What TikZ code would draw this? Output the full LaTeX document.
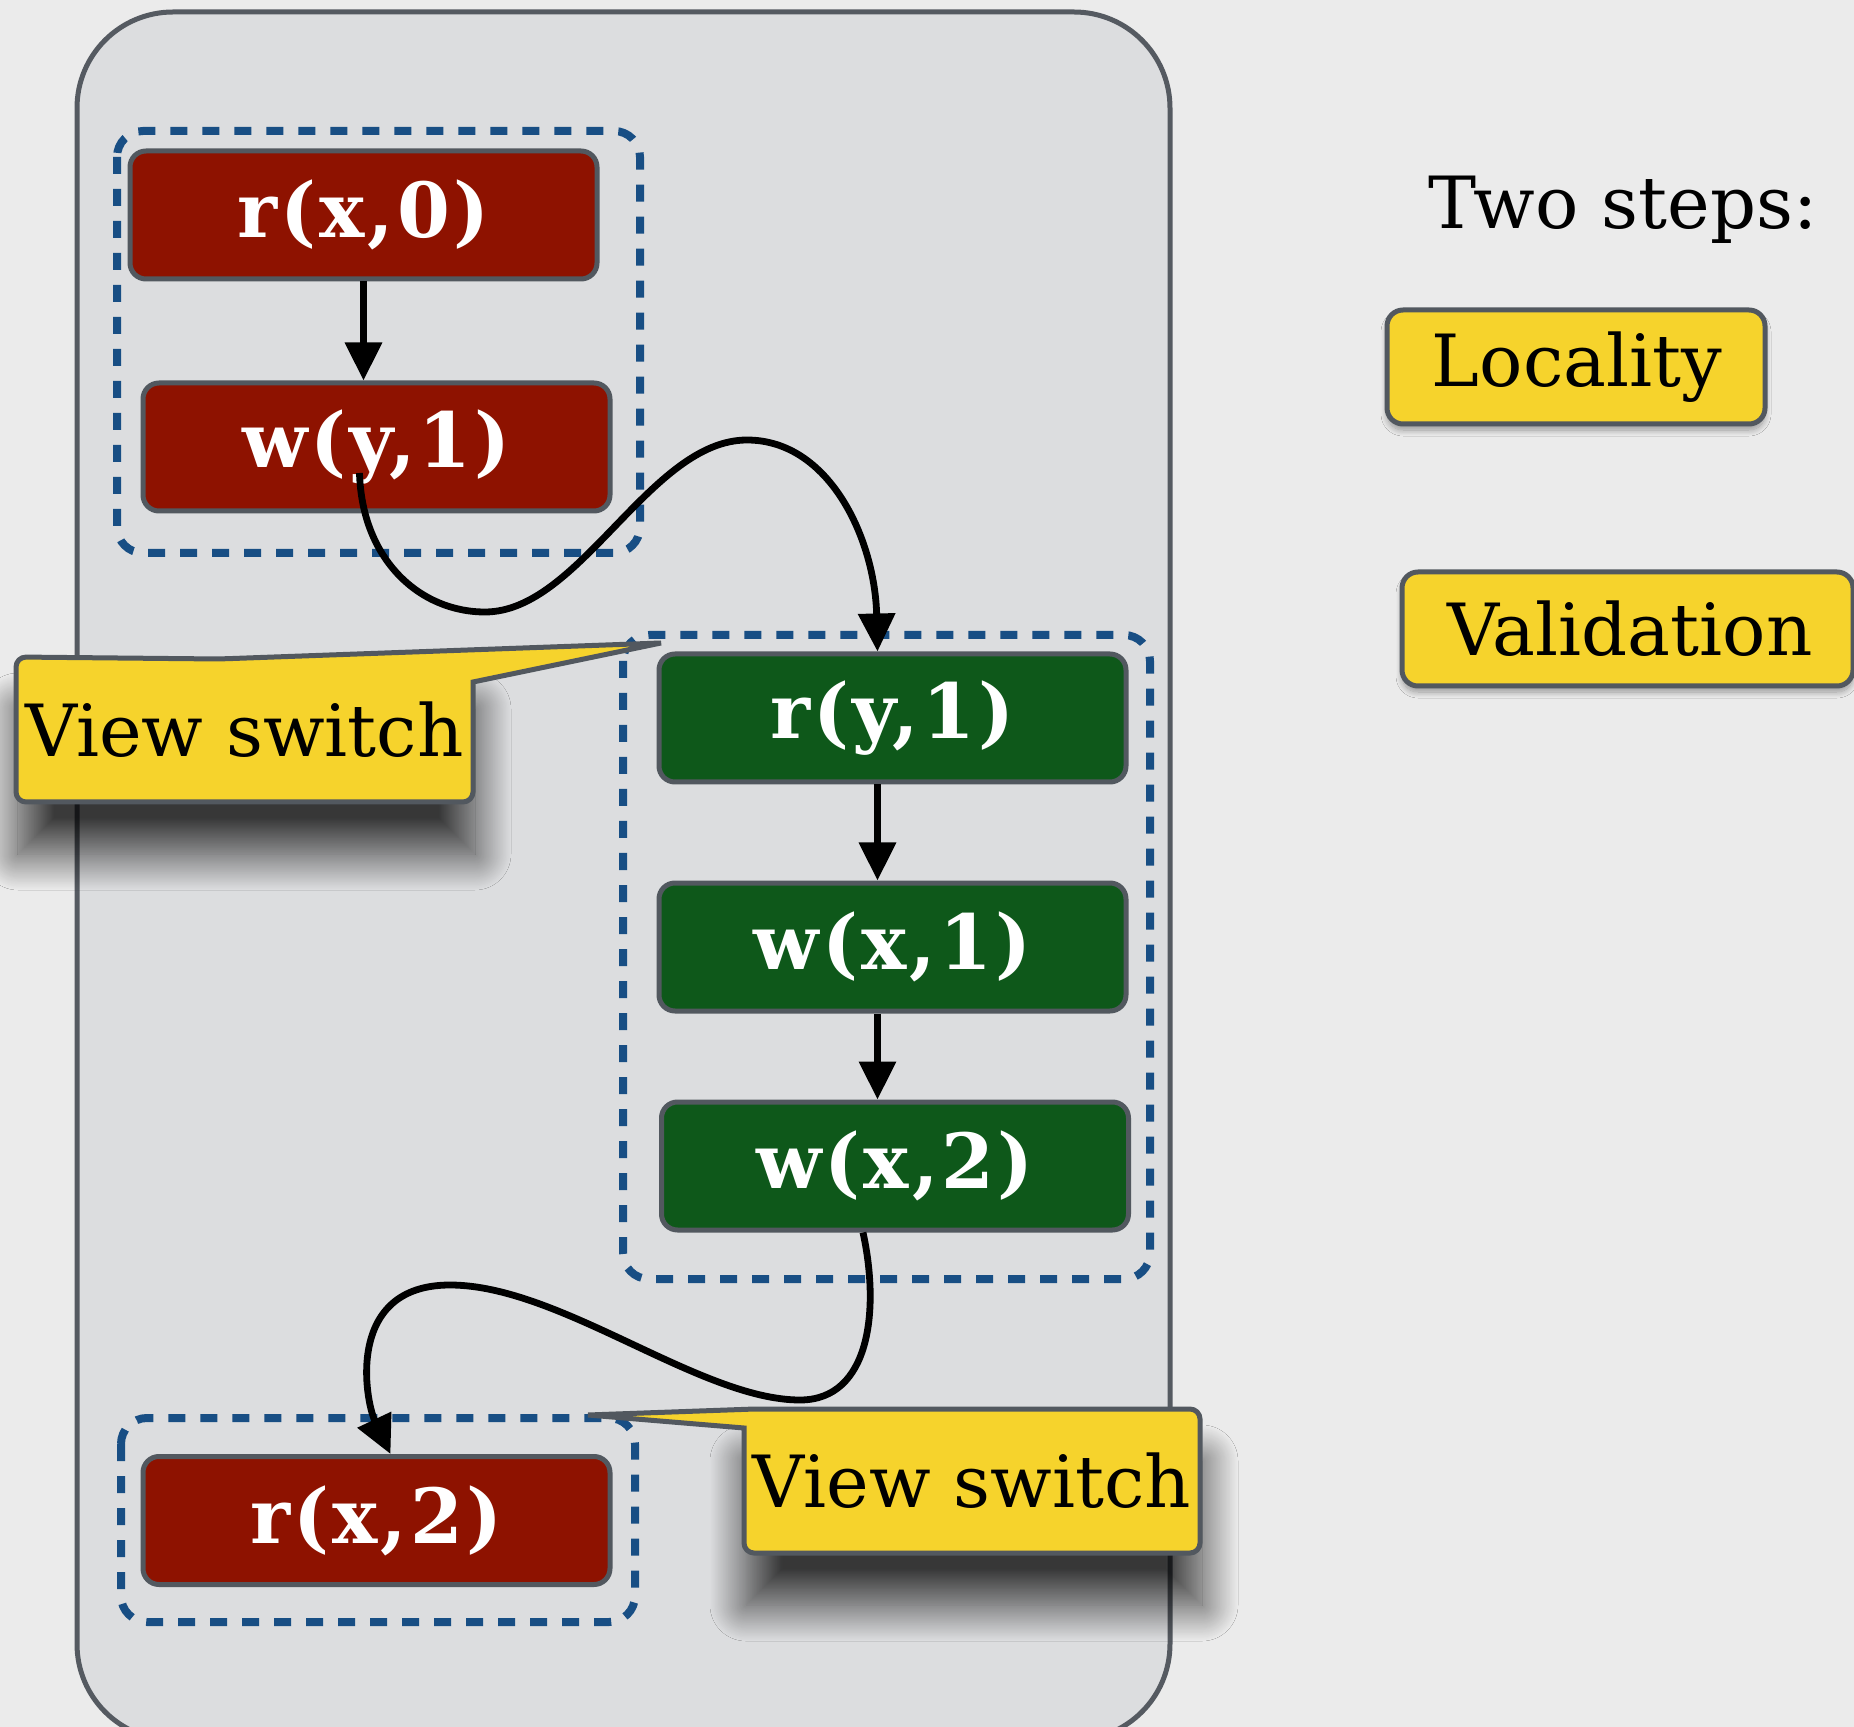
\documentclass[tikz,border=0pt]{standalone}
\usepackage{fontspec}
\newfontfamily\lblfamily{DejaVu Serif}
\newfontfamily\opfamily{DejaVu Serif}[LetterSpace=4]
\usetikzlibrary{arrows.meta,calc,shadows.blur}
\definecolor{bgc}{RGB}{235,235,235}
\definecolor{panelc}{RGB}{220,221,223}
\definecolor{panelb}{RGB}{85,90,97}
\definecolor{redc}{RGB}{142,18,0}
\definecolor{greenc}{RGB}{14,88,26}
\definecolor{yellowc}{RGB}{246,211,44}
\definecolor{bluec}{RGB}{24,78,132}
\definecolor{borderc}{RGB}{82,88,95}
\begin{document}
\begin{tikzpicture}[x=0.5pt,y=-0.5pt,
 op/.style={draw=borderc, line width=2.5pt, rounded corners=8pt, minimum width=233.5pt, minimum height=64pt, inner sep=0pt, text=white, font=\opfamily\bfseries\fontsize{38}{44}\selectfont},
 redop/.style={op, fill=redc},
 greenop/.style={op, fill=greenc},
 grp/.style={draw=bluec, line width=4pt, dash pattern=on 8.5pt off 7.5pt, rounded corners=13pt},
 arr/.style={line width=3.4pt, -{Triangle[length=19pt,width=18pt]}},
 lbl/.style={font=\lblfamily\fontsize{36}{42}\selectfont, text=black, inner sep=0pt},
 callout/.style={fill=yellowc, draw=borderc, line width=2.5pt},
 bigshadow/.style={blur shadow={shadow xshift=1pt, shadow yshift=-26pt, shadow blur radius=18pt, shadow opacity=75, shadow blur steps=40}},
 stepbox/.style={fill=yellowc, draw=borderc, line width=2.5pt, rounded corners=8pt, blur shadow={shadow xshift=0pt, shadow yshift=-3pt, shadow blur radius=3pt, shadow opacity=35, shadow blur steps=10}}]
\useasboundingbox (0,0) rectangle (1854,1727);
\fill[bgc] (0,0) rectangle (1854,1727);
% panel
\draw[draw=panelb, fill=panelc, line width=2.5pt, rounded corners=48pt] (77,12) rectangle (1170,1740);
% groups
\draw[grp] (117,131) rectangle (640,553);
\draw[grp] (623,635) rectangle (1150,1279);
\draw[grp] (121,1418) rectangle (635,1622);
% operation nodes
\node[redop] (rx0) at (363.5,215) {r(x,0)};
\node[redop] (wy1) at (376.5,447) {w(y,1)};
\node[greenop] (ry1) at (892.5,718) {r(y,1)};
\node[greenop] (wx1) at (892.5,947) {w(x,1)};
\node[greenop] (wx2) at (895,1166) {w(x,2)};
\node[redop] (rx2) at (376.5,1520.5) {r(x,2)};
% arrows
\draw[arr] (rx0.south) -- (rx0.south |- wy1.north);
\draw[arr] ([xshift=-7.5pt]ry1.south) -- ([xshift=-7.5pt]ry1.south |- wx1.north);
\draw[arr] ([xshift=-7.5pt]wx1.south) -- ([xshift=-7.5pt]wx1.south |- wx2.north);
\draw[arr] ($(wy1.center)+(-17,26)$) .. controls (362,560) and (420,612) .. (485,612)
  .. controls (580,612) and (650,440) .. (747,440)
  .. controls (830,440) and (875,540) .. ([xshift=-7.5pt]ry1.north);
\draw[arr] ([xshift=-16pt]wx2.south) .. controls (880,1310) and (870,1400) .. (800,1400)
  .. controls (700,1400) and (560,1285) .. (450,1285)
  .. controls (345,1285) and (365,1400) .. ([xshift=7pt]rx2.north);
% callouts
\path[bigshadow] (16,657) rectangle (473,802);
\draw[callout] (16,720) [rounded corners=5pt] -- (16,657) -- (219,659) [sharp corners] -- (661,643) -- (473,682) [rounded corners=5pt] -- (473,802) -- (16,802) -- cycle;
\node[lbl] (vs1) at (244.5,729.5) {View switch};
\path[bigshadow] (744,1409) rectangle (1200,1553);
\draw[callout] (744,1500) [sharp corners] -- (744,1428) -- (588,1415) -- (755,1409) [rounded corners=5pt] -- (1200,1409) -- (1200,1553) -- (744,1553) -- cycle;
\node[lbl] (vs2) at (972,1481) {View switch};
% right side
\node[lbl, anchor=base west] (two) at (1428,229) {Two steps:};
\draw[stepbox] (1387,310) rectangle (1765,424);
\node[lbl] (loc) at (1577,367) {Locality};
\draw[stepbox] (1402,572) rectangle (1853,686);
\node[lbl] (val) at (1630,629) {Validation};
\end{tikzpicture}
\end{document}
